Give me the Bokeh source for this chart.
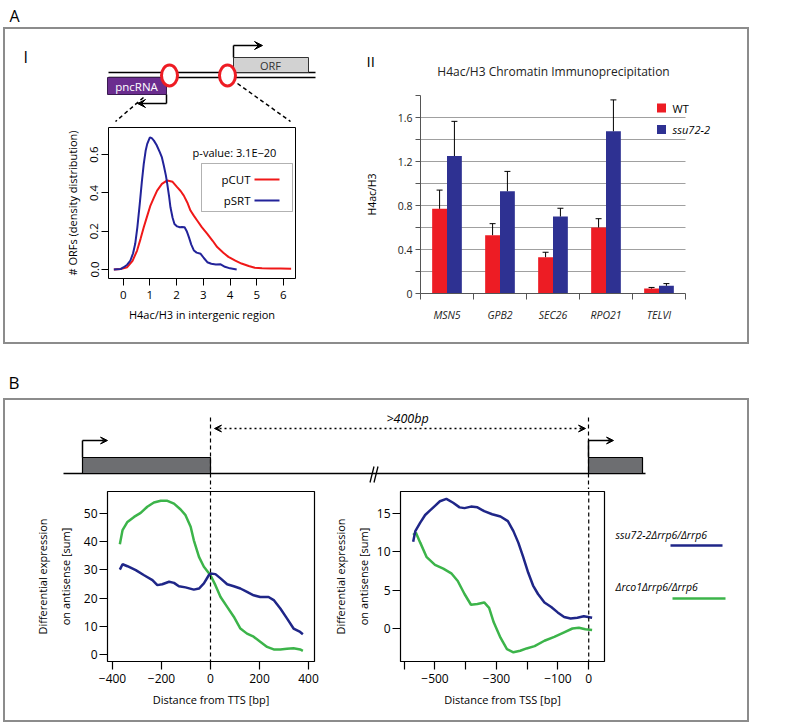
import numpy as np
from bokeh.plotting import figure
from bokeh.layouts import column, row
from bokeh.models import (Range1d, FixedTicker, Label, BoxAnnotation, Whisker, TeeHead,
                          Arrow, VeeHead, Span, ColumnDataSource, Spacer)
from bokeh.embed import file_html
from bokeh.resources import INLINE

# ---------------------------------------------------------------- data
# Panel A-I : density of H4ac/H3 in intergenic region
dens_cut_x = [-0.35, -0.1, 0.15, 0.35, 0.52, 0.65, 0.77, 0.9, 1.02, 1.15, 1.27, 1.45, 1.65, 1.85,
              2.02, 2.15, 2.27, 2.4, 2.52, 2.65, 2.77, 2.95, 3.15, 3.35, 3.52, 3.75, 3.94, 4.2,
              4.43, 4.7, 4.93, 5.2, 5.54, 5.9, 6.29]
dens_cut_y = [0.0, 0.003, 0.012, 0.045, 0.099, 0.16, 0.221, 0.28, 0.334, 0.375, 0.412, 0.447, 0.465,
              0.458, 0.43, 0.41, 0.386, 0.35, 0.308, 0.28, 0.256, 0.22, 0.186, 0.15, 0.117, 0.088,
              0.066, 0.046, 0.031, 0.018, 0.009, 0.006, 0.005, 0.005, 0.004]
dens_srt_x = [-0.35, -0.1, 0.02, 0.15, 0.27, 0.37, 0.45, 0.53, 0.62, 0.7, 0.77, 0.84, 0.9, 1.0, 1.07,
              1.15, 1.25, 1.37, 1.45, 1.52, 1.6, 1.65, 1.72, 1.77, 1.85, 1.92, 2.02, 2.12, 2.2, 2.3,
              2.38, 2.46, 2.55, 2.65, 2.75, 2.9, 3.02, 3.15, 3.3, 3.47, 3.65, 3.81, 4.0, 4.25]
dens_srt_y = [0.0, 0.002, 0.012, 0.025, 0.047, 0.085, 0.134, 0.22, 0.343, 0.46, 0.552, 0.62, 0.656,
              0.69, 0.686, 0.673, 0.65, 0.613, 0.585, 0.543, 0.49, 0.447, 0.38, 0.325, 0.27, 0.238,
              0.225, 0.221, 0.222, 0.221, 0.2, 0.169, 0.13, 0.099, 0.088, 0.082, 0.06, 0.038, 0.03,
              0.026, 0.027, 0.014, 0.006, 0.0]
dens_names = ["pCUT", "pSRT"]
dens_xticks = [0, 1, 2, 3, 4, 5, 6]
dens_yticks = [0, 0.2, 0.4, 0.6]
dens_ytick_labels = ["0.0", "0.2", "0.4", "0.6"]
pvalue_text = "p-value: 3.1E\u221220"

# Panel A-II : H4ac/H3 ChIP
chip_genes = ["MSN5", "GPB2", "SEC26", "RPO21", "TELVI"]
chip_wt = [0.77, 0.53, 0.33, 0.60, 0.045]
chip_wt_err = [0.17, 0.105, 0.045, 0.08, 0.01]
chip_ssu = [1.25, 0.93, 0.70, 1.475, 0.07]
chip_ssu_err = [0.315, 0.18, 0.075, 0.285, 0.02]
chip_series = ["WT", "ssu72-2"]
chip_yticks = [0, 0.4, 0.8, 1.2, 1.6]
chip_ytick_labels = ["0", "0.4", "0.8", "1.2", "1.6"]
chip_yminor = [0.2, 0.6, 1.0, 1.4, 1.8]
chip_grid = [0.2, 0.4, 0.6, 0.8, 1.0, 1.2, 1.4, 1.6]

# Panel B : differential antisense expression
tts_ssu_x = [-370, -359, -339, -305, -271, -237, -217, -197, -169, -149, -129, -102, -68, -47, -27,
             -7, 0, 20, 41, 68, 95, 122, 149, 176, 203, 237, 258, 285, 312, 339, 366, 377]
tts_ssu_y = [30.1, 32.0, 31.3, 29.9, 28.1, 26.4, 24.6, 24.9, 25.8, 25.4, 24.2, 23.8, 23.0, 23.4,
             25.2, 28.1, 28.7, 28.5, 27.0, 24.9, 24.2, 23.4, 22.2, 21.0, 20.4, 20.4, 19.3, 16.3,
             12.8, 9.2, 8.0, 7.2]
tts_rco_x = [-370, -359, -339, -312, -285, -258, -231, -203, -176, -149, -122, -102, -81, -68, -47,
             -27, 0, 20, 41, 68, 95, 122, 149, 176, 203, 231, 258, 285, 312, 339, 366, 377]
tts_rco_y = [39.1, 44.1, 47.0, 48.8, 50.2, 52.4, 53.9, 54.5, 54.5, 53.5, 51.4, 49.4, 45.3, 40.5,
             34.6, 31.1, 28.1, 24.6, 20.4, 16.9, 13.4, 9.2, 7.4, 6.3, 4.5, 2.7, 1.8, 1.8, 2.0, 2.2,
             1.8, 1.3]
tss_ssu_x = [-571, -564, -548, -532, -516, -500, -484, -463, -441, -420, -404, -383, -362, -340,
             -314, -287, -263, -245, -229, -213, -197, -181, -165, -144, -122, -101, -80, -59, -37,
             -16, 11]
tss_ssu_y = [11.3, 12.7, 13.8, 14.8, 15.4, 16.0, 16.6, 16.9, 16.4, 15.8, 15.7, 15.9, 15.8, 15.3,
             14.9, 14.6, 14.0, 12.7, 11.2, 9.3, 7.3, 5.6, 4.5, 3.4, 2.8, 2.1, 1.5, 1.3, 1.4, 1.6, 1.4]
tss_rco_x = [-571, -562, -548, -527, -500, -473, -447, -426, -404, -383, -362, -340, -324, -309,
             -287, -266, -245, -223, -202, -176, -144, -112, -80, -53, -32, -11, 11]
tss_rco_y = [12.2, 12.5, 11.2, 9.3, 8.3, 7.8, 7.2, 6.2, 4.5, 3.1, 3.2, 3.4, 2.7, 0.8, -1.2, -2.7,
             -3.1, -2.9, -2.6, -2.3, -1.6, -1.1, -0.5, 0.0, 0.1, -0.1, -0.2]
tts_ticks = [-400, -200, 0, 200, 400]
tts_tick_labels = ["\u2212400", "\u2212200", "0", "200", "400"]
tts_yticks = [0, 10, 20, 30, 40, 50]
tss_ticks = [-600, -500, -400, -300, -200, -100, 0]
tss_tick_labels = ["", "\u2212500", "", "\u2212300", "", "\u2212100", "0"]
tss_yticks = [0, 5, 10, 15]
b_series = ["ssu72-2\u0394rrp6/\u0394rrp6", "\u0394rco1\u0394rrp6/\u0394rrp6"]

# ---------------------------------------------------------------- style
FONT = "Open Sans"
RED = "#ed1c24"
NAVY = "#2e3192"
DRED = "#f01818"
DBLUE = "#22239a"
BBLUE = "#1f2688"
BGREEN = "#3cb44a"
BORDER = "2px solid #8c8c8c"


def lin(p0, k, flip=False):
    # pixel of the reference picture -> data value
    if flip:
        return lambda px: (p0 - px) / k
    return lambda px: (px - p0) / k


def canvas(box, frame=None):
    x0, y0, x1, y1 = box
    gx0, gy0, gx1, gy1 = frame if frame is not None else box
    p = figure(width=x1 - x0, height=y1 - y0, x_range=Range1d(gx0, gx1), y_range=Range1d(gy1, gy0),
               x_axis_location=None, y_axis_location=None, toolbar_location=None,
               output_backend="svg", title=None,
               min_border_left=gx0 - x0, min_border_right=x1 - gx1,
               min_border_top=gy0 - y0, min_border_bottom=y1 - gy1)
    p.outline_line_color = None
    p.grid.grid_line_color = None
    return p


def chart(box, frame, xmap, ymap):
    fx0, fy0, fx1, fy1 = box
    gx0, gy0, gx1, gy1 = frame
    p = figure(width=fx1 - fx0, height=fy1 - fy0,
               x_range=Range1d(xmap(gx0), xmap(gx1)), y_range=Range1d(ymap(gy1), ymap(gy0)),
               min_border_left=gx0 - fx0, min_border_right=fx1 - gx1,
               min_border_top=gy0 - fy0, min_border_bottom=fy1 - gy1,
               toolbar_location=None, output_backend="svg", title=None)
    p.grid.grid_line_color = None
    for ax in p.axis:
        ax.axis_label_text_font = FONT
        ax.axis_label_text_font_style = "normal"
        ax.axis_label_text_color = "black"
        ax.major_label_text_font = FONT
        ax.major_label_text_color = "black"
        ax.major_tick_line_color = "black"
        ax.minor_tick_line_color = None
        ax.major_tick_in = 0
        ax.axis_line_color = None
    return p


def label(p, x, y, text, size="11px", align="left", baseline="middle", style="normal",
          color="black", angle=0):
    p.add_layout(Label(x=x, y=y, text=text, text_font=FONT, text_font_size=size,
                       text_align=align, text_baseline=baseline, text_font_style=style,
                       text_color=color, angle=angle))


def arrow(p, x0, y0, x1, y1, size=8, start=False, dash="solid", width=1.5):
    p.add_layout(Arrow(x_start=x0, y_start=y0, x_end=x1, y_end=y1, line_width=width,
                       line_dash=dash, line_color="black",
                       end=VeeHead(size=size, fill_color="black", line_color="black"),
                       start=VeeHead(size=size, fill_color="black", line_color="black") if start else None))


# ---------------------------------------------------------------- headers
headA = canvas((3, 0, 749, 27))
label(headA, 9, 15.5, "A", size="16px")
headB = canvas((3, 344, 749, 398))
label(headB, 8, 382, "B", size="17px")

# ---------------------------------------------------------------- A-I diagram
dA = canvas((5, 29, 345, 122))
label(dA, 23, 56, "I", size="16px")
dA.segment(x0=[108, 108], y0=[72, 77], x1=[315, 315], y1=[72, 77], line_color="black", line_width=1.5)
dA.quad(left=[107], right=[166], top=[77], bottom=[94], fill_color="#6b2d8f", line_color="#3a1a50")
label(dA, 136, 86, "pncRNA", size="11.5px", align="center", color="white")
dA.line([166, 166], [94, 103], line_color="black", line_width=1.5)
arrow(dA, 166, 103, 137, 103)
dA.quad(left=[233], right=[308], top=[57], bottom=[72], fill_color="#d2d2d2", line_color="#333333")
label(dA, 270, 64.5, "ORF", size="11px", align="center", color="#333333")
dA.line([233, 233], [57, 45], line_color="black", line_width=1.5)
arrow(dA, 233, 45, 262, 45)
dA.segment(x0=[143, 237], y0=[97, 83], x1=[115, 290], y1=[121, 121], line_color="black",
           line_width=1.5, line_dash="4 3")
dA.ellipse(x=[169, 227], y=[75, 75], width=16, height=21, fill_color="white",
           line_color="#ee1c24", line_width=3)

# ---------------------------------------------------------------- A-I density
DX = lin(122.7, 26.7)
DY = lin(269.0, 191.5, flip=True)
pd = chart((5, 122, 345, 342), (108, 127, 295, 278), DX, DY)
pd.outline_line_color = "black"
pd.outline_line_width = 1
pd.line(dens_cut_x, dens_cut_y, line_color=DRED, line_width=2)
pd.line(dens_srt_x, dens_srt_y, line_color=DBLUE, line_width=2)
pd.xaxis.ticker = FixedTicker(ticks=dens_xticks)
pd.yaxis.ticker = FixedTicker(ticks=dens_yticks)
pd.yaxis.major_label_overrides = {t: s for t, s in zip(dens_yticks, dens_ytick_labels)}
pd.yaxis.major_label_orientation = "vertical"
for ax in pd.axis:
    ax.major_tick_out = 7
    ax.major_label_text_font_size = "11.5px"
    ax.axis_label_text_font_size = "11px"
pd.xaxis.major_label_standoff = 5
pd.yaxis.major_label_standoff = 3
pd.xaxis.axis_label_standoff = 5
pd.yaxis.axis_label_standoff = 8
pd.xaxis.axis_label = "H4ac/H3 in intergenic region"
pd.yaxis.axis_label = "# ORFs (density distribution)"
label(pd, DX(234), DY(152), pvalue_text, size="11px", align="center")
pd.add_layout(BoxAnnotation(left=DX(201), right=DX(292), top=DY(163), bottom=DY(211),
                            fill_color=None, line_color="black", line_width=1))
for name, yy, col in zip(dens_names, [179, 200], [DRED, DBLUE]):
    label(pd, DX(250), DY(yy), name, size="11.5px", align="right")
    pd.segment(x0=[DX(254)], y0=[DY(yy)], x1=[DX(279)], y1=[DY(yy)], line_color=col, line_width=2)

# ---------------------------------------------------------------- A-II title strip
tA = canvas((345, 29, 747, 95))
label(tA, 366, 60, "II", size="15px")
label(tA, 553, 71, "H4ac/H3 Chromatin Immunoprecipitation", size="12px", align="center",
      color="#222222")

# ---------------------------------------------------------------- A-II bars
BX = lin(420.0, 53.0)
BY = lin(293.0, 110.0, flip=True)
pb = chart((345, 95, 747, 342), (420, 95, 740, 293), BX, BY)
pb.outline_line_color = None
BW = 0.28
ngenes = len(chip_genes)
centers = [i + 0.5 for i in range(ngenes)]
src = ColumnDataSource(dict(
    xw=[c - BW / 2 for c in centers], xs=[c + BW / 2 for c in centers],
    wt=chip_wt, ssu=chip_ssu,
    wt_up=[v + e for v, e in zip(chip_wt, chip_wt_err)],
    ssu_up=[v + e for v, e in zip(chip_ssu, chip_ssu_err)]))
gridok = True
try:
    pb.ygrid.cross_bounds = (0, ngenes)
except Exception:
    gridok = False
if gridok:
    pb.ygrid.ticker = FixedTicker(ticks=chip_grid)
    pb.ygrid.grid_line_color = "#a0a0a0"
    pb.ygrid.grid_line_width = 1
else:
    pb.segment(x0=[0] * len(chip_grid), y0=chip_grid, x1=[ngenes] * len(chip_grid), y1=chip_grid,
               line_color="#a0a0a0", line_width=1)
pb.vbar(x="xw", top="wt", width=BW, source=src, fill_color=RED, line_color=None)
pb.vbar(x="xs", top="ssu", width=BW, source=src, fill_color=NAVY, line_color=None)
for base, lo, up in [("xw", "wt", "wt_up"), ("xs", "ssu", "ssu_up")]:
    pb.add_layout(Whisker(source=src, base=base, lower=lo, upper=up, dimension="height",
                          line_color="black", line_width=1, level="overlay",
                          upper_head=TeeHead(size=6, line_color="black", line_width=1),
                          lower_head=None))
pb.yaxis.ticker = FixedTicker(ticks=chip_yticks, minor_ticks=chip_yminor)
pb.yaxis.major_label_overrides = {t: s for t, s in zip(chip_yticks, chip_ytick_labels)}
pb.xaxis.ticker = FixedTicker(ticks=centers, minor_ticks=list(range(ngenes + 1)))
pb.xaxis.major_label_overrides = {c: g for c, g in zip(centers, chip_genes)}
pb.xaxis.bounds = (0, ngenes)
for ax in pb.axis:
    ax.axis_line_color = "#555555"
    ax.major_tick_line_color = "#555555"
    ax.minor_tick_line_color = "#555555"
    ax.minor_tick_in = 0
    ax.major_label_text_font_size = "10.5px"
    ax.major_label_text_color = "#222222"
pb.yaxis.major_tick_out = 5
pb.yaxis.minor_tick_out = 5
pb.yaxis.major_label_standoff = 3
pb.xaxis.major_tick_out = 0
pb.xaxis.minor_tick_out = 6
pb.xaxis.major_label_standoff = 8
pb.xaxis.major_label_text_font_style = "italic"
pb.yaxis.axis_label = "H4ac/H3"
pb.yaxis.axis_label_text_font_size = "10.5px"
pb.yaxis.axis_label_standoff = 16
pb.scatter(x=[BX(661), BX(661)], y=[BY(107.5), BY(129)], marker="square", size=9,
           fill_color=[RED, NAVY], line_color=None)
label(pb, BX(672), BY(107.5), chip_series[0], size="11px")
label(pb, BX(672), BY(129), chip_series[1], size="11px", style="italic")

# ---------------------------------------------------------------- B diagram
dB = canvas((5, 400, 747, 489))
dB.segment(x0=[63], y0=[473], x1=[645], y1=[473], line_color="black", line_width=1.5)
dB.quad(left=[82, 588], right=[210, 642], top=[457, 457], bottom=[473, 473],
        fill_color="#6d6e71", line_color="black", line_width=1.2)
dB.segment(x0=[82, 588], y0=[457, 457], x1=[82, 588], y1=[440, 440], line_color="black", line_width=1.5)
arrow(dB, 82, 440, 107, 440, size=7)
arrow(dB, 588, 440, 613, 440, size=7)
dB.segment(x0=[210, 588], y0=[417, 417], x1=[210, 588], y1=[489, 489], line_color="black",
           line_width=1.2, line_dash="4 3")
arrow(dB, 214, 428, 585, 428, size=7, start=True, dash="2 3", width=1.3)
label(dB, 407, 418, ">400bp", size="12.5px", align="center", style="italic")
dB.segment(x0=[369.5, 373.5], y0=[482, 482], x1=[373.5, 377.5], y1=[466, 466], line_color="black",
           line_width=1.3)


def style_b(p, xticks, xlabels, yticks, xlabel):
    p.outline_line_color = "black"
    p.outline_line_width = 1.2
    p.xaxis.ticker = FixedTicker(ticks=xticks)
    p.xaxis.major_label_overrides = {t: s for t, s in zip(xticks, xlabels)}
    p.yaxis.ticker = FixedTicker(ticks=yticks)
    for ax in p.axis:
        ax.major_tick_out = 8
        ax.major_tick_line_width = 1.2
        ax.major_label_text_font_size = "12px"
        ax.axis_label_text_font_size = "11px"
    p.xaxis.major_label_standoff = 4
    p.yaxis.major_label_standoff = 2
    p.xaxis.axis_label = xlabel
    p.xaxis.axis_label_standoff = 6
    p.yaxis.axis_label = "Differential expression\non antisense [sum]"
    p.yaxis.axis_label_text_line_height = 1.5
    p.add_layout(Span(location=0, dimension="height", line_color="black", line_width=1.2,
                      line_dash="4 3"))


# ---------------------------------------------------------------- B left (TTS)
LX = lin(210.0, 0.245)
LY = lin(654.0, 2.82, flip=True)
pl = chart((5, 489, 330, 720), (107, 491, 314, 661), LX, LY)
pl.line(tts_rco_x, tts_rco_y, line_color=BGREEN, line_width=2.5)
pl.line(tts_ssu_x, tts_ssu_y, line_color=BBLUE, line_width=2.5)
style_b(pl, tts_ticks, tts_tick_labels, tts_yticks, "Distance from TTS [bp]")
pl.yaxis.axis_label_standoff = 8

# ---------------------------------------------------------------- B right (TSS)
RX = lin(588.0, 0.312)
RY = lin(628.0, 7.667, flip=True)
pr = chart((330, 489, 612, 720), (397, 491, 604, 661), RX, RY)
pr.line(tss_rco_x, tss_rco_y, line_color=BGREEN, line_width=2.5)
pr.line(tss_ssu_x, tss_ssu_y, line_color=BBLUE, line_width=2.5)
style_b(pr, tss_ticks, tss_tick_labels, tss_yticks, "Distance from TSS [bp]")
pr.yaxis.axis_label_standoff = 3

# ---------------------------------------------------------------- B legend
lg = canvas((612, 489, 747, 720), (612, 491, 747, 661))
label(lg, 615, 534, b_series[0], size="10.5px", style="italic")
lg.segment(x0=[670], y0=[545], x1=[722], y1=[545], line_color=BBLUE, line_width=2.5)
label(lg, 615, 586, b_series[1], size="10.5px", style="italic")
lg.segment(x0=[672], y0=[598], x1=[725], y1=[598], line_color=BGREEN, line_width=2.5)

# ---------------------------------------------------------------- layout
leftA = column(column(dA), column(pd))
rightA = column(column(tA), column(pb))
boxA = column(row(leftA, rightA), styles={"border": BORDER})
boxB = column(dB, row(pl, pr, lg), styles={"border": BORDER})
root = row(Spacer(width=3, height=10), column(headA, boxA, headB, boxB))

with open("out.html", "w") as f:
    f.write(file_html(root, INLINE))
